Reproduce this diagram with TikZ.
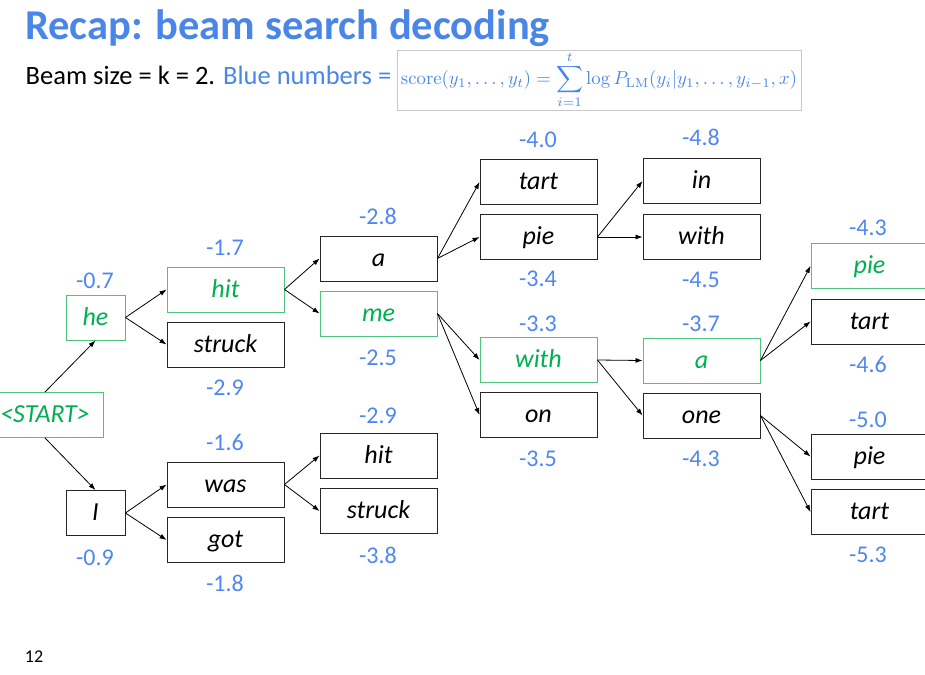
\documentclass[tikz,border=0pt]{standalone}
\usepackage[no-math]{fontspec}
\setmainfont{Carlito}
\usepackage{graphicx}
\usetikzlibrary{arrows.meta}
\definecolor{tblue}{RGB}{74,134,232}
\definecolor{nblue}{RGB}{79,135,242}
\definecolor{gtext}{RGB}{0,176,80}
\definecolor{gline}{RGB}{80,195,125}
\definecolor{fbox}{RGB}{200,200,200}
\tikzset{
  wbox/.style={draw=black!85, line width=0.9pt, minimum width=117pt, minimum height=45pt, inner sep=0pt,
    font=\fontsize{26}{29}\selectfont\itshape, text height=20pt, text depth=5pt},
  nbox/.style={wbox, minimum width=59pt},
  gbox/.style={draw=gline, text=gtext},
  num/.style={anchor=base, text=nblue, inner sep=0pt, font=\fontsize{24}{27}\selectfont},
  arr/.style={-{Latex[length=7pt,width=5pt]}, line width=0.8pt, black}
}
\begin{document}
\begin{tikzpicture}[x=1pt,y=-1pt]
\useasboundingbox (0,0) rectangle (925,674);
\clip (0,0) rectangle (925,674);
% title
\node[anchor=base west, inner sep=0pt, text=tblue, font=\fontsize{42.5}{46}\selectfont\bfseries] (title) at (25,40) {Recap: beam search decoding};
\node[anchor=base west, inner sep=0pt, font=\fontsize{26.5}{30}\selectfont] (sub) at (25.5,85) {Beam size = k = 2. \textcolor{tblue}{Blue numbers =}};
\node[draw=fbox, line width=0.6pt, minimum width=404pt, minimum height=60pt, inner sep=0pt, text=tblue] (formula) at (599,80)
  {\resizebox{396pt}{!}{$\displaystyle \mathrm{score}(y_1,\ldots,y_t)=\sum_{i=1}^{t}\log P_{\mathrm{LM}}(y_i|y_1,\ldots,y_{i-1},x)$}};
\node[anchor=center, inner sep=0pt, font=\fontsize{18}{20}\selectfont] (page) at (34,657) {12};
% nodes
\node[wbox,gbox] (start) at (45,415) {<START>};
\node[nbox,gbox] (he) at (95.5,317.5) {he};
\node[nbox] (I) at (95.5,513) {I};
\node[wbox,gbox] (hit1) at (225.5,289.5) {hit};
\node[wbox] (struck1) at (225.5,344.5) {struck};
\node[wbox] (was) at (225.5,484.5) {was};
\node[wbox] (got) at (225.5,540) {got};
\node[wbox] (a1) at (378.5,258.5) {a};
\node[wbox,gbox] (me) at (378.5,313.5) {me};
\node[wbox] (hit2) at (378.5,455.5) {hit};
\node[wbox] (struck2) at (378.5,511) {struck};
\node[wbox] (tart1) at (538.5,182) {tart};
\node[wbox] (pie1) at (538.5,237) {pie};
\node[wbox,gbox] (with1) at (538.5,360) {with};
\node[wbox] (on) at (538.5,415) {on};
\node[wbox] (in) at (701.5,181) {in};
\node[wbox] (with2) at (701.5,237) {with};
\node[wbox,gbox] (a2) at (701.5,360.5) {a};
\node[wbox] (one) at (701.5,415.5) {one};
\node[wbox,gbox] (pie2) at (869.5,266) {pie};
\node[wbox] (tart2) at (869.5,321.5) {tart};
\node[wbox] (pie3) at (869.5,456.5) {pie};
\node[wbox] (tart3) at (869.5,512) {tart};
% scores
\node[num] (s1) at (95,288) {-0.7};
\node[num] (s2) at (95,565) {-0.9};
\node[num] (s3) at (225,255) {-1.7};
\node[num] (s4) at (225,395) {-2.9};
\node[num] (s5) at (225,450) {-1.6};
\node[num] (s6) at (225,591) {-1.8};
\node[num] (s7) at (378,224) {-2.8};
\node[num] (s8) at (378,365) {-2.5};
\node[num] (s9) at (378,423) {-2.9};
\node[num] (s10) at (378,563) {-3.8};
\node[num] (s11) at (538,147) {-4.0};
\node[num] (s12) at (538,286) {-3.4};
\node[num] (s13) at (538,331) {-3.3};
\node[num] (s14) at (538,466) {-3.5};
\node[num] (s15) at (701,145) {-4.8};
\node[num] (s16) at (701,287) {-4.5};
\node[num] (s17) at (701,331) {-3.7};
\node[num] (s18) at (701,466) {-4.3};
\node[num] (s19) at (868,235) {-4.3};
\node[num] (s20) at (868,372) {-4.6};
\node[num] (s21) at (868,427) {-5.0};
\node[num] (s22) at (868,562) {-5.3};
% connectors
\draw[arr] (start.north) -- (he.south);
\draw[arr] (start.south) -- (I.north);
\draw[arr] (he.east) -- (hit1.west);
\draw[arr] (he.east) -- (struck1.west);
\draw[arr] (I.east) -- (was.west);
\draw[arr] (I.east) -- (got.west);
\draw[arr] (hit1.east) -- (a1.west);
\draw[arr] (hit1.east) -- (me.west);
\draw[arr] (was.east) -- (hit2.west);
\draw[arr] (was.east) -- (struck2.west);
\draw[arr] (a1.east) -- (tart1.west);
\draw[arr] (a1.east) -- (pie1.west);
\draw[arr] (me.east) -- (with1.west);
\draw[arr] (me.east) -- (on.west);
\draw[arr] (pie1.east) -- (in.west);
\draw[arr] (pie1.east) -- (with2.west);
\draw[arr] (with1.east) -- (a2.west);
\draw[arr] (with1.east) -- (one.west);
\draw[arr] (a2.east) -- (pie2.west);
\draw[arr] (a2.east) -- (tart2.west);
\draw[arr] (one.east) -- (pie3.west);
\draw[arr] (one.east) -- (tart3.west);
\end{tikzpicture}
\end{document}
